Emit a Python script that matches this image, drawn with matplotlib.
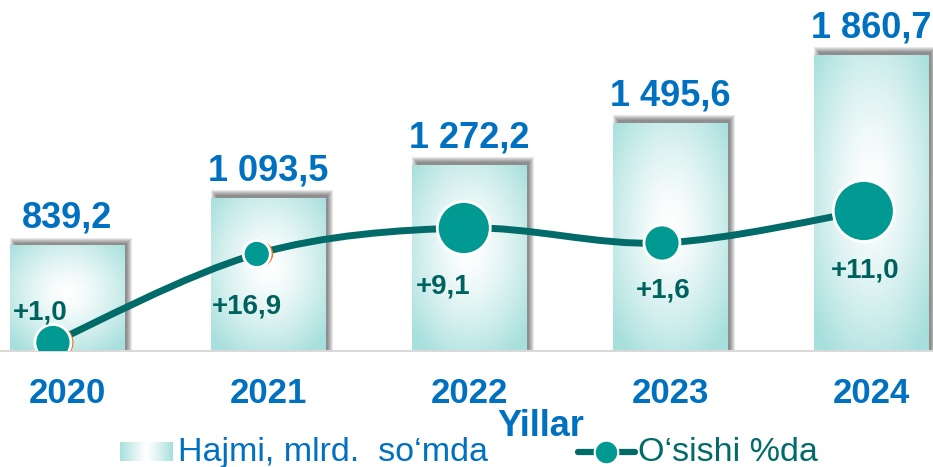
import numpy as np
import matplotlib
matplotlib.use("Agg")
import matplotlib.pyplot as plt
from matplotlib.patches import Rectangle, PathPatch
from matplotlib.path import Path
from matplotlib.lines import Line2D
from matplotlib.colors import to_rgb
from matplotlib.transforms import offset_copy

plt.rcParams['font.family'] = ['Liberation Sans', 'DejaVu Sans']

# data
years = ["2020", "2021", "2022", "2023", "2024"]
volume = [839.2, 1093.5, 1272.2, 1495.6, 1860.7]      # Hajmi, mlrd. so'mda
growth = [1.0, 16.9, 9.1, 1.6, 11.0]                  # O'sishi %da
line_level = [8.5, 97, 123, 108, 140]                 # height of the line points (secondary axis)

# styling
BLUE = "#0070c0"
TEAL_BAR = "#a6dfdc"
LINE_C = "#006b68"
MARK_C = "#009a93"
LBL_C = "#00625e"
marker_px = [36, 27, 53, 36, 61]
marker_shift = [-0.07, -0.056, -0.026, -0.04, -0.036]
label_off_px = [(-13, -30), (-10, 53), (-21, 58), (1, 47), (1, 59)]

W, H = 933, 467
fig = plt.figure(figsize=(W / 100, H / 100), dpi=100)
ax = fig.add_axes([0, 116 / H, 1, 351 / H])
ybot = 276.7
ax.set_xlim(-67 / 201, (W - 67) / 201)
ax.set_ylim(ybot, ybot + 351 / 0.18676)
for s in ["top", "left", "right"]:
    ax.spines[s].set_visible(False)
ax.spines["bottom"].set_color("#d9d9d9")
ax.spines["bottom"].set_linewidth(1.5)
ax.set_yticks([])
x = np.arange(len(years))
ax.set_xticks(x)
ax.set_xticklabels(years, fontsize=25, fontweight="bold", color=BLUE)
ax.tick_params(axis="x", length=0, pad=19)

# pixel -> data conversion
fig.canvas.draw()
p0 = ax.transData.transform((0, ybot))
p1 = ax.transData.transform((1, ybot + 1000))
dx_px = 1 / (p1[0] - p0[0])
dy_px = 1000 / (p1[1] - p0[1])

bw = 0.572
bars = ax.bar(x, volume, width=bw, color="none", edgecolor="none", zorder=3)

# radial gradient for bars
gy, gx = np.mgrid[0:1:200j, 0:1:100j]
teal = np.array(to_rgb(TEAL_BAR))
white = np.ones(3)

for i, b in enumerate(bars):
    x0, w, h = b.get_x(), b.get_width(), b.get_height()
    # soft shadow, shifted up and to the right
    for k in range(6):
        ax.add_patch(Rectangle((x0 + k * dx_px, ybot),
                               w + (8 - 2 * k) * dx_px,
                               h - ybot + (8 - k) * dy_px,
                               facecolor="black", edgecolor="none",
                               alpha=0.09, zorder=1))
    r = np.sqrt(((gx - 0.5) / 0.5) ** 2 + ((gy - 0.55) / 0.5) ** 2)
    t = np.clip(r / 1.35, 0, 1) ** 1.4
    img = white[None, None, :] * (1 - t[..., None]) + teal[None, None, :] * t[..., None]
    ax.add_patch(Rectangle((x0, ybot), w, h - ybot, facecolor="white",
                           edgecolor="none", zorder=2))
    ax.imshow(img, extent=[x0, x0 + w, ybot, h], origin="lower",
              aspect="auto", zorder=2.5, interpolation="bilinear")
    lbl = f"{volume[i]:,.1f}".replace(",", " ").replace(".", ",")
    ax.annotate(lbl, (i, h), xytext=(0, 13), textcoords="offset points",
                ha="center", va="baseline", fontsize=26, fontweight="bold",
                color=BLUE)
ax.set_xlim(-67 / 201, (W - 67) / 201)
ax.set_ylim(ybot, ybot + 351 / 0.18676)

# growth line on a hidden secondary axis
ax2 = ax.twinx()
ax2.set_ylim(0, 351)
ax2.set_xlim(ax.get_xlim())
ax2.axis("off")

px = np.array(x + np.array(marker_shift), dtype=float)
py = np.array(line_level, dtype=float)
P = np.column_stack([px, py])
Pe = np.vstack([P[0], P, P[-1]])
verts = [tuple(P[0])]
codes = [Path.MOVETO]
for j in range(len(P) - 1):
    a, b_, c, d = Pe[j], Pe[j + 1], Pe[j + 2], Pe[j + 3]
    c1 = b_ + (c - a) / 6
    c2 = c - (d - b_) / 6
    verts += [tuple(c1), tuple(c2), tuple(c)]
    codes += [Path.CURVE4] * 3
ax2.add_patch(PathPatch(Path(verts, codes), fill=False, edgecolor=LINE_C,
                        lw=5, capstyle="round", zorder=3))

sizes = [(d * 0.72) ** 2 for d in marker_px]
orange_tr = offset_copy(ax2.transData, fig=fig, x=4, y=0, units="dots")
ax2.scatter(px[:2], py[:2], s=np.array(sizes[:2]) * 0.85, color="#e87722",
            transform=orange_tr, zorder=3.5, linewidths=0)
ax2.scatter(px, py, s=sizes, color=MARK_C, edgecolors="white",
            linewidths=2, zorder=4)

for i, g in enumerate(growth):
    txt = "+" + f"{g:.1f}".replace(".", ",")
    ox, oy = label_off_px[i]
    ax2.annotate(txt, (px[i], py[i]), xytext=(ox * 0.72, -oy * 0.72),
                 textcoords="offset points", ha="center", va="center",
                 fontsize=20, fontweight="bold", color=LBL_C, zorder=5)

# axis title
fig.text(541 / W, (H - 426) / H, "Yillar", ha="center", va="center",
         fontsize=26, fontweight="bold", color=BLUE)

# legend, drawn by hand
sw = fig.add_axes([120 / W, (H - 461) / H, 52 / W, 19 / H])
lx = np.linspace(-1, 1, 100)
lt = np.clip(np.abs(lx), 0, 1) ** 1.2
limg = white[None, :] * (1 - lt[:, None]) + teal[None, :] * lt[:, None]
sw.imshow(limg[None, :, :], aspect="auto", interpolation="bilinear")
sw.axis("off")
fig.text(178 / W, (H - 461) / H, "Hajmi, mlrd.  so\u2018mda", ha="left",
         va="baseline", fontsize=24.5, color=BLUE)

fig.add_artist(Line2D([578 / W, 635 / W], [(H - 452) / H] * 2,
                      transform=fig.transFigure, color=LINE_C, lw=4.5,
                      solid_capstyle="round"))
fig.add_artist(Line2D([606 / W], [(H - 452) / H], transform=fig.transFigure,
                      marker="o", markersize=17, color=MARK_C,
                      markeredgecolor="white", markeredgewidth=1.5, lw=0))
fig.text(638 / W, (H - 461) / H, "O\u2018sishi %da", ha="left",
         va="baseline", fontsize=24.5, color=LINE_C)

fig.savefig("out.png", dpi=100)
